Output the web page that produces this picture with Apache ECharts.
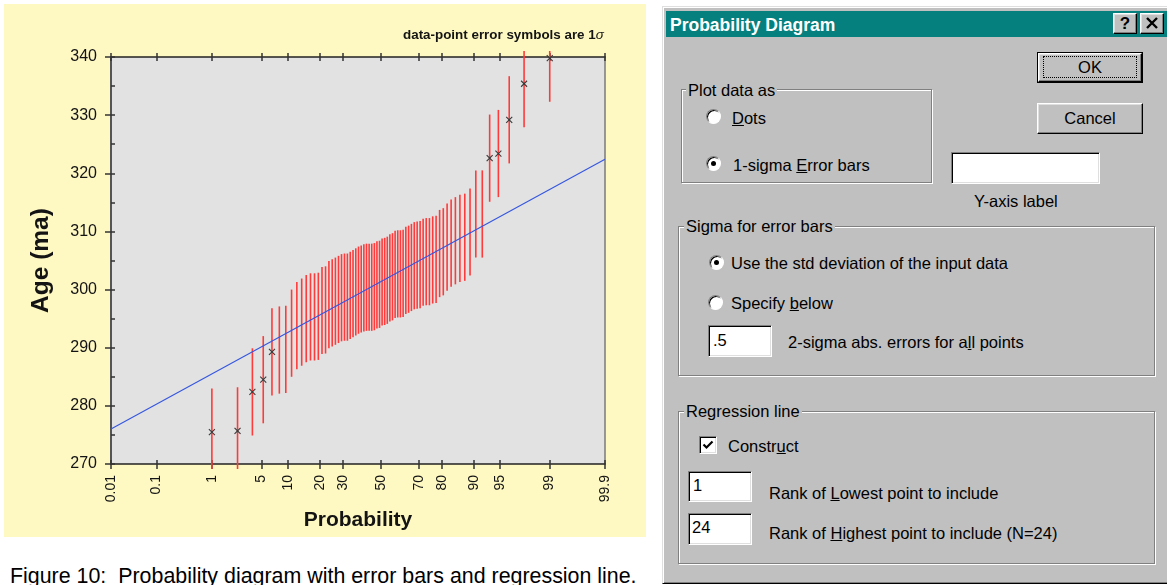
<!DOCTYPE html>
<html><head><meta charset="utf-8">
<script src="https://cdn.jsdelivr.net/npm/echarts@6.0.0/dist/echarts.min.js"></script>
<style>
html,body{margin:0;padding:0;background:#fff;}
body{position:relative;width:1167px;height:585px;overflow:hidden;font-family:'Liberation Sans',Arial,sans-serif;}
#panel{position:absolute;left:4px;top:4px;width:642px;height:533px;}
#caption{position:absolute;left:10px;top:563px;font-size:21.4px;line-height:26px;white-space:pre;color:#000;}
.frame{position:absolute;left:662px;top:6px;width:510px;height:576px;background:#c0c0c0;border-left:1px solid #dfdfdf;border-top:1px solid #dfdfdf;border-bottom:1px solid #000;box-shadow:inset 1px 1px 0 #fff, inset 0 -1px 0 #808080;}
.title{position:absolute;left:666px;top:11px;width:501px;height:26px;background:#067f7f;}
.ttext{position:absolute;left:670px;top:13px;height:24px;line-height:24px;font-size:17.5px;font-weight:bold;color:#fff;white-space:pre;}
.t{position:absolute;white-space:pre;font-size:16.5px;line-height:20px;height:20px;color:#000;}
.grp{position:absolute;box-sizing:border-box;border:1px solid #808080;box-shadow:inset 1px 1px 0 #fff, 1px 1px 0 #fff;}
.gl{background:#c0c0c0;padding:0 2px;}
.rad{position:absolute;box-sizing:border-box;width:15px;height:15px;border-radius:50%;background:#fff;border:1px solid;border-color:#808080 #fff #fff #808080;box-shadow:inset 1px 1px 0 #000;}
.rad.on::after{content:'';position:absolute;left:4px;top:4px;width:5px;height:5px;border-radius:50%;background:#000;}
.inp{position:absolute;box-sizing:border-box;background:#fff;border:1px solid;border-color:#808080 #fff #fff #808080;box-shadow:inset 1px 1px 0 #000, inset -1px -1px 0 #dfdfdf;}
.btn{position:absolute;box-sizing:border-box;background:#c0c0c0;border:1px solid;border-color:#fff #000 #000 #fff;box-shadow:inset -1px -1px 0 #808080, inset 1px 1px 0 #dfdfdf;text-align:center;color:#000;}
</style></head><body>
<div id="panel"></div>
<div id="caption">Figure 10:  Probability diagram with error bars and regression line.</div>

<div class="frame"></div>
<div class="title"></div>
<div class="ttext">Probability Diagram</div>
<div class="btn" style="left:1113px;top:13px;width:24px;height:21px;font-weight:bold;font-size:17px;line-height:19px;">?</div>
<div class="btn" style="left:1140px;top:13px;width:24px;height:21px;">
  <svg width="22" height="19" style="position:absolute;left:0;top:0"><path d="M6 4 L16 14 M16 4 L6 14" stroke="#000" stroke-width="2.4"/></svg>
</div>

<div style="position:absolute;left:1037px;top:52px;width:106px;height:31px;box-sizing:border-box;border:1px solid #000;">
  <div class="btn" style="left:0;top:0;width:104px;height:29px;"></div>
  <div style="position:absolute;left:5px;top:3px;width:94px;height:22px;box-sizing:border-box;border:1px dotted #000;"></div>
  <div class="t" style="left:0;top:4px;width:104px;text-align:center;">OK</div>
</div>
<div class="btn" style="left:1037px;top:103px;width:106px;height:31px;"></div>
<div class="t" style="left:1037px;top:108px;width:106px;text-align:center;">Cancel</div>

<div class="grp" style="left:681px;top:89px;width:251px;height:94px;"></div>
<div class="t gl" style="left:686px;top:80px;">Plot data as</div>
<div class="rad" style="left:706px;top:109px;"></div>
<div class="t" style="left:732px;top:108px;"><u>D</u>ots</div>
<div class="rad on" style="left:706px;top:156px;"></div>
<div class="t" style="left:733px;top:155px;">1-sigma <u>E</u>rror bars</div>

<div class="inp" style="left:951px;top:152px;width:149px;height:32px;"></div>
<div class="t" style="left:974px;top:191px;">Y-axis label</div>

<div class="grp" style="left:678px;top:226px;width:477px;height:150px;"></div>
<div class="t gl" style="left:684px;top:216px;">Sigma for error bars</div>
<div class="rad on" style="left:709px;top:255px;"></div>
<div class="t" style="left:731px;top:253px;">Use the std deviation of the input data</div>
<div class="rad" style="left:708px;top:295px;"></div>
<div class="t" style="left:731px;top:293px;">Specify <u>b</u>elow</div>
<div class="inp" style="left:708px;top:325px;width:64px;height:32px;"></div>
<div class="t" style="left:713px;top:330px;">.5</div>
<div class="t" style="left:788px;top:332px;">2-sigma abs. errors for a<u>l</u>l points</div>

<div class="grp" style="left:678px;top:411px;width:477px;height:153px;"></div>
<div class="t gl" style="left:684px;top:401px;">Regression line</div>
<div class="inp" style="left:699px;top:436px;width:18px;height:18px;"></div>
<svg width="18" height="18" style="position:absolute;left:699px;top:436px"><path d="M4.5 8.5 L7.5 11.5 L13.5 5.5" stroke="#000" stroke-width="2.2" fill="none"/></svg>
<div class="t" style="left:728px;top:436px;">Constr<u>u</u>ct</div>
<div class="inp" style="left:688px;top:471px;width:64px;height:31px;"></div>
<div class="t" style="left:693px;top:475px;">1</div>
<div class="t" style="left:769px;top:483px;">Rank of <u>L</u>owest point to include</div>
<div class="inp" style="left:688px;top:513px;width:64px;height:32px;"></div>
<div class="t" style="left:692px;top:517px;">24</div>
<div class="t" style="left:769px;top:523px;">Rank of <u>H</u>ighest point to include (N=24)</div>

<script>
// ---- data ----
const probTicks = [0.01, 0.1, 1, 5, 10, 20, 30, 50, 70, 80, 90, 95, 99, 99.9]; // % probability tick labels
// sorted ages (Ma), rank 1..70
const ages = [
  275.5, 275.7, 282.4, 284.5, 289.3, 289.6, 289.7, 292.5, 293.8, 294.4,
  295.0, 295.3, 295.3, 295.4, 296.4, 296.5, 297.4, 297.7, 298.0, 298.3,
  298.6, 298.7, 298.7, 299.0, 299.3, 299.6, 299.9, 300.1, 300.3, 300.4,
  300.4, 300.4, 300.5, 300.8, 300.9, 301.3, 301.4, 301.6, 302.0, 302.2,
  302.6, 302.7, 302.7, 302.8, 303.3, 303.5, 303.8, 304.1, 304.2, 304.3,
  304.7, 304.8, 304.8, 305.1, 305.2, 306.2, 306.5, 307.3, 308.0, 308.4,
  308.8, 309.0, 309.9, 313.0, 313.0, 322.6, 323.4, 329.2, 335.4, 339.8
];
const sigma = 7.5;                       // 1-sigma error (Ma)
const markedRanks = [1, 2, 3, 4, 5, 66, 67, 68, 69, 70]; // points drawn with an x symbol
const regIntercept = 301.35;             // regression age at 50 %
const regSlope = 6.815;                  // Ma per standard-normal unit
const yMin = 270, yMax = 340, yStep = 10, yMinorStep = 5;

// ---- probability scale (standard normal quantile) ----
function normInv(p){
  const a=[-3.969683028665376e+01,2.209460984245205e+02,-2.759285104469687e+02,1.383577518672690e+02,-3.066479806614716e+01,2.506628277459239e+00];
  const b=[-5.447609879822406e+01,1.615858368580409e+02,-1.556989798598866e+02,6.680131188771972e+01,-1.328068155288572e+01];
  const c=[-7.784894002430293e-03,-3.223964580411365e-01,-2.400758277161838e+00,-2.549671010229528e+00,4.374664141464968e+00,2.938163982698783e+00];
  const d=[7.784695709041462e-03,3.224671290700398e-01,2.445134137142996e+00,3.754408661907416e+00];
  const pl=0.02425, ph=1-pl; let q,r;
  if(p<pl){q=Math.sqrt(-2*Math.log(p));return (((((c[0]*q+c[1])*q+c[2])*q+c[3])*q+c[4])*q+c[5])/((((d[0]*q+d[1])*q+d[2])*q+d[3])*q+1);}
  if(p<=ph){q=p-0.5;r=q*q;return (((((a[0]*r+a[1])*r+a[2])*r+a[3])*r+a[4])*r+a[5])*q/(((((b[0]*r+b[1])*r+b[2])*r+b[3])*r+b[4])*r+1);}
  q=Math.sqrt(-2*Math.log(1-p));return -(((((c[0]*q+c[1])*q+c[2])*q+c[3])*q+c[4])*q+c[5])/((((d[0]*q+d[1])*q+d[2])*q+d[3])*q+1);
}
const N = ages.length;
const tickZ = probTicks.map(p => normInv(p / 100));
const zMin = tickZ[0], zMax = tickZ[tickZ.length - 1];
// median-rank plotting position of each sorted point
const pts = ages.map((age, i) => [normInv((i + 1 - 0.3) / (N + 0.4)), age, i + 1]);
const marked = pts.filter(p => markedRanks.indexOf(p[2]) >= 0);
const regLine = [[zMin, regIntercept + regSlope * zMin], [zMax, regIntercept + regSlope * zMax]];

function tickLabel(v){
  let best = 0;
  tickZ.forEach((z, k) => { if (Math.abs(z - v) < Math.abs(tickZ[best] - v)) best = k; });
  return String(probTicks[best]);
}

const chart = echarts.init(document.getElementById('panel'), null, {renderer: 'canvas'});
const txt = '#141414';
const baseX = {type: 'value', min: zMin, max: zMax, gridIndex: 0, splitLine: {show: false}, axisLabel: {show: false}};
chart.setOption({
  animation: false,
  backgroundColor: '#fef8c2',
  textStyle: {fontFamily: 'Liberation Sans'},
  grid: {left: 107, right: 41, top: 53, bottom: 73, show: true, backgroundColor: '#e2e2e2', borderWidth: 0},
  graphic: [{
    type: 'text', left: 399, top: 25,
    style: {
      text: '{a|data-point error symbols are 1}{s|σ}',
      rich: {a: {fontSize: 13.4, fontWeight: 'bold', fill: txt, fontFamily: 'Liberation Sans'},
             s: {fontSize: 13.4, fontStyle: 'italic', fill: txt, fontFamily: 'Liberation Sans'}}
    }
  }],
  xAxis: [
    Object.assign({}, baseX, {
      position: 'bottom',
      axisLine: {show: true, onZero: false, lineStyle: {color: '#222', width: 1.5}},
      axisTick: {show: true, customValues: tickZ, length: 5, lineStyle: {color: '#333', width: 1.5}},
      axisLabel: {show: true, customValues: tickZ, formatter: tickLabel, rotate: 90, margin: 11, fontSize: 14, color: txt},
      name: 'Probability', nameLocation: 'middle', nameGap: 40,
      nameTextStyle: {fontSize: 21, fontWeight: 'bold', color: txt}
    }),
    Object.assign({}, baseX, {
      position: 'bottom',
      axisLine: {show: false, onZero: false},
      axisTick: {show: true, inside: true, customValues: tickZ, length: 4, lineStyle: {color: '#333', width: 1.5}}
    }),
    Object.assign({}, baseX, {
      position: 'top',
      axisLine: {show: true, onZero: false, lineStyle: {color: '#222', width: 1.5}},
      axisTick: {show: true, customValues: tickZ, length: 4, lineStyle: {color: '#333', width: 1.5}}
    }),
    Object.assign({}, baseX, {
      position: 'top',
      axisLine: {show: false, onZero: false},
      axisTick: {show: true, inside: true, customValues: tickZ, length: 4, lineStyle: {color: '#333', width: 1.5}}
    })
  ],
  yAxis: [
    {type: 'value', min: yMin, max: yMax, interval: yStep, position: 'left',
     splitLine: {show: false},
     axisLine: {show: true, onZero: false, lineStyle: {color: '#555', width: 2}},
     axisTick: {show: true, length: 6, lineStyle: {color: '#333', width: 1.5}},
     axisLabel: {margin: 14, fontSize: 16, color: txt},
     name: 'Age (ma)', nameLocation: 'middle', nameGap: 57,
     nameTextStyle: {fontSize: 24.5, fontWeight: 'bold', color: txt}},
    {type: 'value', min: yMin, max: yMax, interval: yMinorStep, position: 'left',
     splitLine: {show: false}, axisLine: {show: false, onZero: false},
     axisTick: {show: true, inside: true, length: 4, lineStyle: {color: '#333', width: 1.5}},
     axisLabel: {show: false}},
    {type: 'value', min: yMin, max: yMax, position: 'right',
     splitLine: {show: false}, axisLine: {show: true, onZero: false, lineStyle: {color: '#7a7a7a', width: 1.5}},
     axisTick: {show: false}, axisLabel: {show: false}}
  ],
  series: [
    {
      type: 'custom', name: 'error bars', silent: true,
      data: pts,
      encode: {x: 0, y: 1},
      renderItem: function(params, api){
        const x = api.value(0), age = api.value(1);
        const top = api.coord([x, age + sigma]);
        const bot = api.coord([x, age - sigma]);
        const cs = params.coordSys;
        const y1 = Math.max(top[1], cs.y - 6);
        const y2 = Math.min(bot[1], cs.y + cs.height + 5);
        return {type: 'line', shape: {x1: top[0], y1: y1, x2: bot[0], y2: y2},
                style: {stroke: '#ff3a3a', lineWidth: 1.6}};
      }
    },
    {
      type: 'line', name: 'regression', data: regLine, symbol: 'none', silent: true,
      lineStyle: {color: '#3556e0', width: 1.1}, z: 3
    },
    {
      type: 'custom', name: 'points', silent: true, z: 4,
      data: marked,
      encode: {x: 0, y: 1},
      renderItem: function(params, api){
        const c = api.coord([api.value(0), api.value(1)]);
        const h = 3;
        return {type: 'group', children: [
          {type: 'line', shape: {x1: c[0]-h, y1: c[1]-h, x2: c[0]+h, y2: c[1]+h}, style: {stroke: '#3a3a3a', lineWidth: 1.1}},
          {type: 'line', shape: {x1: c[0]-h, y1: c[1]+h, x2: c[0]+h, y2: c[1]-h}, style: {stroke: '#3a3a3a', lineWidth: 1.1}}
        ]};
      }
    }
  ]
});
</script>
</body></html>
